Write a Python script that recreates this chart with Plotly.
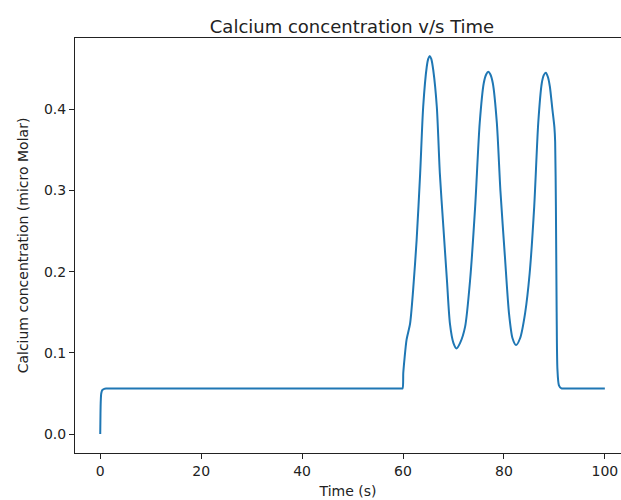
import plotly.graph_objects as go

# Time (s)
time_s = [0, 0.05, 0.1, 0.2, 0.4, 0.8, 1.2, 1.6, 2.2, 3.0, 30, 58.5, 59.5, 59.9, 60.05,
          60.3, 60.7, 61.4, 62.0,
          62.7, 63.4, 64.0, 64.7, 65.0, 65.3, 65.6, 66.0, 66.7, 67.3, 68.0, 68.7,
          69.3, 70.0, 70.6, 71.3, 72.3, 73.3, 74.3, 75.2, 76.0, 76.5, 76.9, 77.3,
          77.8, 78.6, 79.3, 80.2, 81.0, 81.7, 82.4, 83.2, 84.2, 85.1, 86.0, 86.8,
          87.5, 87.9, 88.3, 88.7, 89.1, 89.6, 90.0, 90.15, 90.3, 90.45, 90.6,
          90.9, 91.4, 92, 93, 100]
# Calcium concentration (micro Molar)
calcium = [0.0, 0.025, 0.04, 0.05, 0.054, 0.0557, 0.0561, 0.0562, 0.0562, 0.0562, 0.0562,
           0.0562, 0.0562, 0.0562, 0.075,
           0.093, 0.116, 0.136, 0.177, 0.239, 0.321, 0.403, 0.452, 0.462, 0.4655, 0.462,
           0.448, 0.403, 0.321, 0.255, 0.190, 0.136, 0.112, 0.1055, 0.112, 0.132,
           0.190, 0.280, 0.383, 0.432, 0.443, 0.446, 0.443, 0.432, 0.383, 0.300,
           0.218, 0.149, 0.118, 0.1096, 0.118, 0.149, 0.198, 0.280, 0.383, 0.432,
           0.442, 0.445, 0.440, 0.428, 0.400, 0.378, 0.36, 0.28, 0.15, 0.08,
           0.06, 0.0562, 0.0562, 0.0562, 0.0562]

x_ticks = [0, 20, 40, 60, 80, 100]
y_ticks = [0.0, 0.1, 0.2, 0.3, 0.4]

fig = go.Figure()
fig.add_trace(go.Scatter(x=time_s, y=calcium, mode="lines",
                         line=dict(color="#1f77b4", width=2, shape="spline", smoothing=0.7),
                         showlegend=False))

ink = "#222222"
font = dict(family="DejaVu Sans", size=14, color=ink)
fig.update_layout(
    width=621, height=500,
    margin=dict(l=75, r=0, t=38, b=47),
    paper_bgcolor="white", plot_bgcolor="white",
    font=font,
    title=dict(text="Calcium concentration v/s Time", x=352 / 621, xref="container",
               xanchor="center", y=1 - 27 / 500, yref="container", yanchor="middle",
               font=dict(family="DejaVu Sans", size=18, color=ink)),
    xaxis=dict(range=[-5, 103.2], tickvals=x_ticks, ticktext=[str(v) for v in x_ticks],
               showgrid=False, zeroline=False, showline=True, linecolor=ink,
               linewidth=1, mirror=True, ticks="outside", ticklen=5, tickcolor=ink,
               tickfont=dict(family="DejaVu Sans", size=14, color=ink),
               title=dict(text="Time (s)", standoff=8,
                          font=dict(family="DejaVu Sans", size=14, color=ink)),
               automargin=False),
    yaxis=dict(range=[-0.0233, 0.4877], tickvals=y_ticks,
               ticktext=[f"{v:.1f}" for v in y_ticks],
               showgrid=False, zeroline=False, showline=True, linecolor=ink,
               linewidth=1, mirror=False, ticks="outside", ticklen=5, tickcolor=ink,
               tickfont=dict(family="DejaVu Sans", size=14, color=ink),
               title=dict(text="Calcium concentration (micro Molar)", standoff=12,
                          font=dict(family="DejaVu Sans", size=14, color=ink)),
               automargin=False),
)
fig.write_html("out.html")
